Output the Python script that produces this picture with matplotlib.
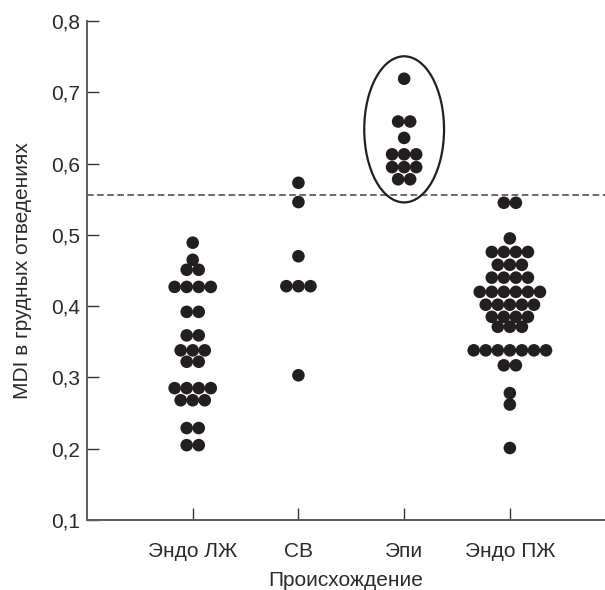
import matplotlib
matplotlib.use("Agg")
from matplotlib import pyplot as plt
from matplotlib.patches import Ellipse
from collections import Counter

plt.rcParams['font.family'] = ['Liberation Sans', 'DejaVu Sans']

# data (one value per dot)
categories = ["Эндо ЛЖ", "СВ", "Эпи", "Эндо ПЖ"]
endo_lv = [0.489, 0.465, 0.451, 0.451, 0.427, 0.427, 0.427, 0.427,
           0.392, 0.392, 0.359, 0.359, 0.338, 0.338, 0.338, 0.322, 0.322,
           0.285, 0.285, 0.285, 0.285, 0.268, 0.268, 0.268,
           0.229, 0.229, 0.205, 0.205]
sv = [0.573, 0.546, 0.470, 0.428, 0.428, 0.428, 0.303]
epi = [0.719, 0.659, 0.659, 0.636, 0.613, 0.613, 0.613,
       0.595, 0.595, 0.595, 0.578, 0.578]
endo_pv = [0.545, 0.545, 0.495, 0.476, 0.476, 0.476, 0.476,
           0.458, 0.458, 0.458, 0.440, 0.440, 0.440, 0.440,
           0.420, 0.420, 0.420, 0.420, 0.420, 0.420,
           0.402, 0.402, 0.402, 0.402, 0.402,
           0.385, 0.385, 0.385, 0.385, 0.371, 0.371, 0.371,
           0.338, 0.338, 0.338, 0.338, 0.338, 0.338, 0.338,
           0.317, 0.317, 0.278, 0.262, 0.201]
groups = [endo_lv, sv, epi, endo_pv]
threshold = 0.556
yticks = [0.1, 0.2, 0.3, 0.4, 0.5, 0.6, 0.7, 0.8]
ytick_labels = ["0,1", "0,2", "0,3", "0,4", "0,5", "0,6", "0,7", "0,8"]

dot_color = "#231f20"
step = 0.114  # horizontal distance between neighbouring dots

fig = plt.figure(figsize=(6.05, 5.9), dpi=100)
ax = fig.add_axes([87 / 605, 70 / 590, 518 / 605, 499 / 590])

for i, vals in enumerate(groups):
    xc = i + 1
    counts = Counter(vals)
    xs, ys = [], []
    for v, n in counts.items():
        for k in range(n):
            xs.append(xc + (k - (n - 1) / 2.0) * step)
            ys.append(v)
    ax.scatter(xs, ys, s=82, color=dot_color, edgecolors="none", zorder=3)

ax.axhline(threshold, color="#6b6b6b", lw=1.4, dashes=(3.4, 1.8), zorder=1)

ell = Ellipse((3, 0.648), 0.755, 0.205, fill=False, edgecolor=dot_color, lw=1.6, zorder=2)
ax.add_patch(ell)

ax.set_xlim(0, 4.9)
ax.set_ylim(0.1, 0.8)
ax.set_xticks([1, 2, 3, 4])
ax.set_xticklabels(categories)
ax.set_yticks(yticks)
ax.set_yticklabels(ytick_labels)

for s in ["top", "right"]:
    ax.spines[s].set_visible(False)
for s in ["left", "bottom"]:
    ax.spines[s].set_color("#5a5a5a")
    ax.spines[s].set_linewidth(1.4)

ax.tick_params(axis="both", direction="in", length=8.5, width=1.0, color="#333333",
               labelsize=15, labelcolor="#2a2a2a")
ax.tick_params(axis="y", pad=5)
ax.tick_params(axis="x", pad=16)

ax.set_xlabel("Происхождение", fontsize=15, color="#2a2a2a", labelpad=7)
ax.set_ylabel("MDI в грудных отведениях", fontsize=15, color="#2a2a2a", labelpad=14)

fig.savefig("out.png", dpi=100)
